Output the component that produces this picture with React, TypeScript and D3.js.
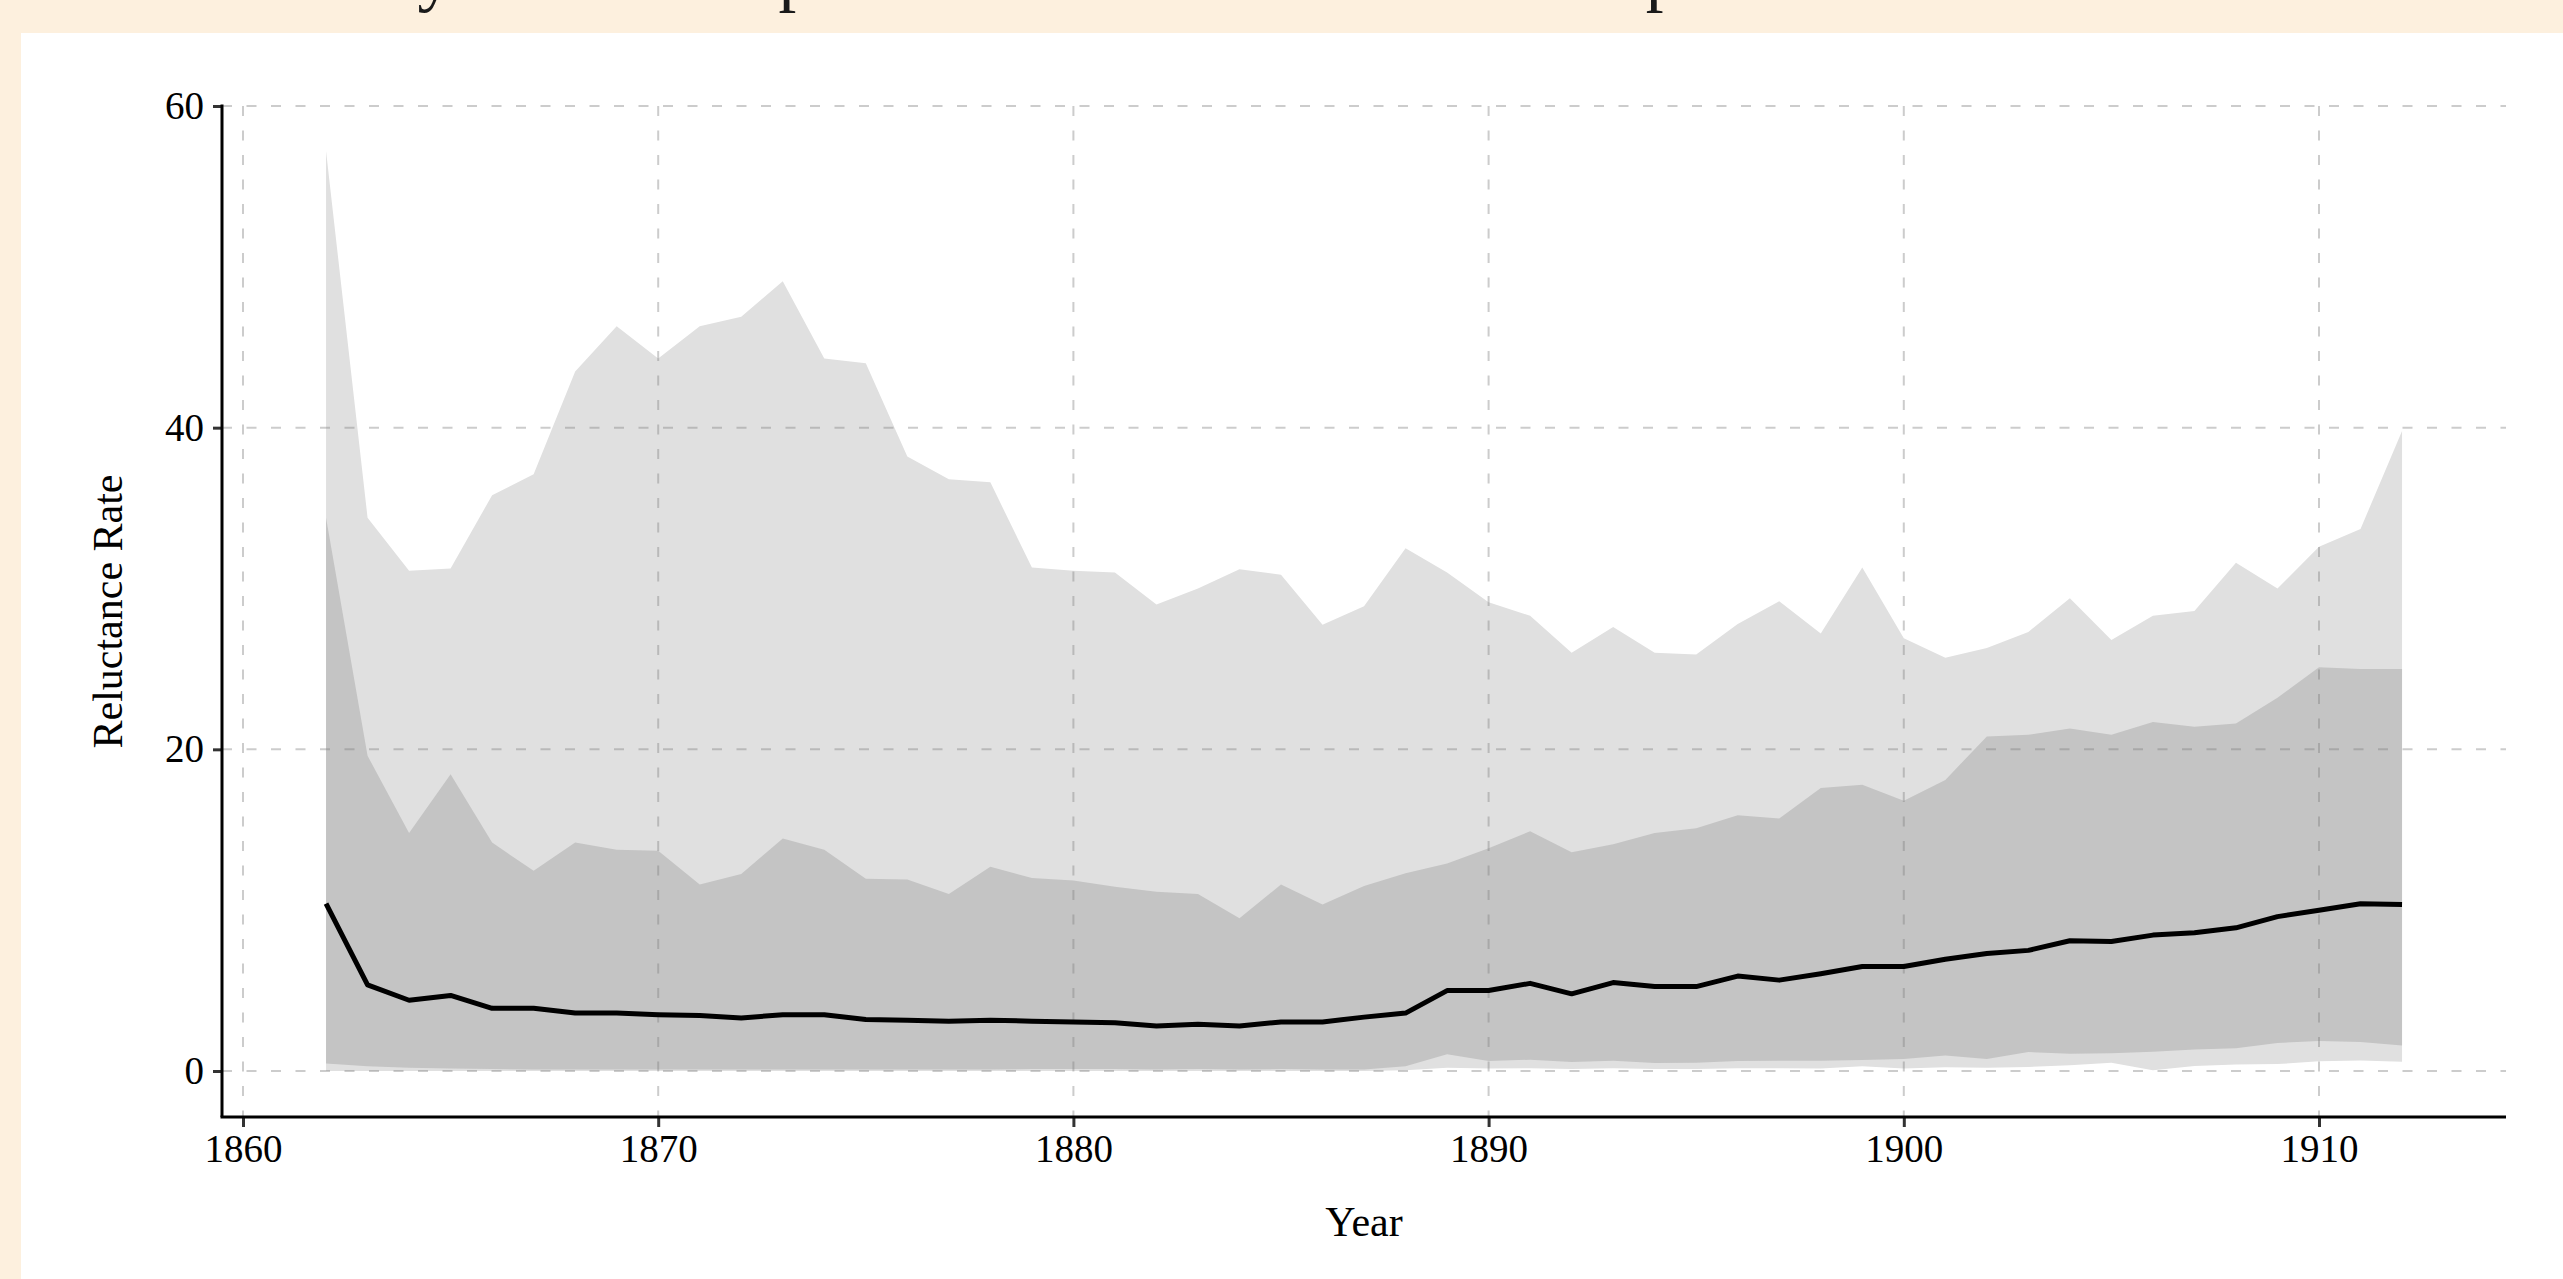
import React, { useEffect, useRef } from 'react';
import * as d3 from 'd3';

// years on the x axis
const years = [
  1862, 1863, 1864, 1865, 1866, 1867, 1868, 1869, 1870, 1871,
  1872, 1873, 1874, 1875, 1876, 1877, 1878, 1879, 1880, 1881,
  1882, 1883, 1884, 1885, 1886, 1887, 1888, 1889, 1890, 1891,
  1892, 1893, 1894, 1895, 1896, 1897, 1898, 1899, 1900, 1901,
  1902, 1903, 1904, 1905, 1906, 1907, 1908, 1909, 1910, 1911,
  1912,
];

// outer (light) band
const outerLow = [
  0, 0, 0, 0, 0, 0, 0, 0, 0, 0,
  0, 0, 0, 0, 0, 0, 0, 0, 0, 0,
  0, 0, 0, 0, 0, 0, 0.05, 0.2, 0.15, 0.17,
  0.12, 0.17, 0.12, 0.12, 0.17, 0.17, 0.15, 0.29, 0.15, 0.23,
  0.2, 0.25, 0.35, 0.52, 0.04, 0.31, 0.41, 0.43, 0.6, 0.66,
  0.58,
];
const outerHigh = [
  57.2, 34.4, 31.1, 31.25, 35.8, 37.1, 43.5, 46.3, 44.3, 46.3,
  46.9, 49.1, 44.3, 44.0, 38.2, 36.8, 36.6, 31.3, 31.1, 31.0,
  29.0, 30.0, 31.2, 30.85, 27.75, 28.9, 32.5, 31.0, 29.15, 28.3,
  26.0, 27.6, 26.0, 25.9, 27.8, 29.2, 27.2, 31.3, 26.9, 25.7,
  26.3, 27.3, 29.4, 26.8, 28.3, 28.6, 31.6, 30.0, 32.6, 33.7,
  39.8,
];

// inner (dark) band
const innerLow = [
  0.46, 0.3, 0.2, 0.15, 0.12, 0.1, 0.1, 0.1, 0.1, 0.1,
  0.1, 0.1, 0.1, 0.1, 0.1, 0.1, 0.1, 0.12, 0.12, 0.12,
  0.1, 0.12, 0.1, 0.12, 0.1, 0.1, 0.3, 1.04, 0.62, 0.7,
  0.56, 0.64, 0.5, 0.52, 0.62, 0.64, 0.64, 0.68, 0.75, 0.97,
  0.75, 1.18, 1.08, 1.1, 1.2, 1.33, 1.41, 1.74, 1.87, 1.8,
  1.58,
];
const innerHigh = [
  34.4, 19.6, 14.8, 18.45, 14.2, 12.45, 14.2, 13.75, 13.7, 11.6,
  12.25, 14.45, 13.75, 11.95, 11.9, 11.0, 12.7, 12.0, 11.85, 11.45,
  11.15, 11.0, 9.5, 11.6, 10.35, 11.5, 12.3, 12.9, 13.85, 14.9,
  13.6, 14.1, 14.8, 15.1, 15.9, 15.7, 17.6, 17.8, 16.8, 18.1,
  20.8, 20.9, 21.3, 20.9, 21.7, 21.4, 21.6, 23.2, 25.1, 25.0,
  25.0,
];

const median = [
  10.4, 5.35, 4.4, 4.7, 3.9, 3.9, 3.6, 3.6, 3.5, 3.45,
  3.3, 3.5, 3.5, 3.2, 3.15, 3.1, 3.15, 3.1, 3.05, 3.0,
  2.8, 2.9, 2.8, 3.05, 3.05, 3.35, 3.6, 5.0, 5.0, 5.45,
  4.8, 5.5, 5.25, 5.25, 5.9, 5.65, 6.05, 6.5, 6.5, 6.95,
  7.3, 7.5, 8.1, 8.05, 8.45, 8.6, 8.9, 9.6, 10.0, 10.4,
  10.35,
];

const xTicks = [1860, 1870, 1880, 1890, 1900, 1910];
const yTicks = [0, 20, 40, 60];

const W = 2563;
const H = 1279;
const serif = 'Liberation Serif, Times New Roman, serif';

const App = () => {
  const ref = useRef<SVGSVGElement>(null);

  useEffect(() => {
    const svg = d3.select(ref.current);
    svg.selectAll('*').remove();

    const x = d3.scaleLinear().domain([1860, 1910]).range([243, 2319]);
    const y = d3.scaleLinear().domain([0, 60]).range([1071, 106]);
    const left = 222,
      right = 2506,
      axisY = 1117;

    // page + panel
    svg.append('rect').attr('width', W).attr('height', H).attr('fill', '#fdf0de');
    svg
      .append('rect')
      .attr('x', 21)
      .attr('y', 33)
      .attr('width', W - 21)
      .attr('height', H - 33)
      .attr('fill', '#ffffff');

    // title sits above the top edge, only its descenders show
    svg
      .append('text')
      .attr('x', 267)
      .attr('y', -1.6)
      .style('font-family', serif)
      .style('font-size', '71px')
      .attr('fill', '#1a1a1a')
      .text('Yearly Rate and Spread of Reluctance over Companies');

    const rows = years.map((yr, i) => ({
      yr,
      ol: outerLow[i],
      oh: outerHigh[i],
      il: innerLow[i],
      ih: innerHigh[i],
      md: median[i],
    }));

    const outerArea = d3
      .area<any>()
      .x((d) => x(d.yr))
      .y0((d) => y(d.ol))
      .y1((d) => y(d.oh));
    const innerArea = d3
      .area<any>()
      .x((d) => x(d.yr))
      .y0((d) => y(d.il))
      .y1((d) => y(d.ih));

    svg.append('path').datum(rows).attr('fill', '#e0e0e0').attr('d', outerArea);
    svg.append('path').datum(rows).attr('fill', '#c4c4c4').attr('d', innerArea);

    // grid
    const grid = svg
      .append('g')
      .attr('stroke', '#808080')
      .attr('stroke-opacity', 0.4)
      .attr('stroke-width', 2)
      .attr('stroke-dasharray', '10,14.5');
    grid
      .selectAll('line.h')
      .data(yTicks)
      .enter()
      .append('line')
      .attr('class', 'h')
      .attr('x1', left)
      .attr('x2', right)
      .attr('y1', (d) => y(d))
      .attr('y2', (d) => y(d));
    grid
      .selectAll('line.v')
      .data(xTicks)
      .enter()
      .append('line')
      .attr('class', 'v')
      .attr('x1', (d) => x(d))
      .attr('x2', (d) => x(d))
      .attr('y1', y(60))
      .attr('y2', axisY);

    // median line
    svg
      .append('path')
      .datum(rows)
      .attr('fill', 'none')
      .attr('stroke', '#000')
      .attr('stroke-width', 5)
      .attr('stroke-linejoin', 'round')
      .attr(
        'd',
        d3
          .line<any>()
          .x((d) => x(d.yr))
          .y((d) => y(d.md))
      );

    // axes
    const xAxis = svg
      .append('g')
      .attr('transform', `translate(0,${axisY})`)
      .call(
        d3
          .axisBottom(x)
          .tickValues(xTicks)
          .tickSize(10)
          .tickPadding(7)
          .tickFormat(d3.format('d'))
      );
    const yAxis = svg
      .append('g')
      .attr('transform', `translate(${left},0)`)
      .call(d3.axisLeft(y).tickValues(yTicks).tickSize(9).tickPadding(9));

    [xAxis, yAxis].forEach((g) => {
      g.select('.domain').remove();
      g.selectAll('.tick line').attr('stroke', '#333').attr('stroke-width', 3);
      g.selectAll('.tick text')
        .attr('font-family', serif)
        .attr('font-size', 39)
        .attr('fill', '#000');
    });

    svg
      .append('line')
      .attr('x1', left - 1.5)
      .attr('x2', right)
      .attr('y1', axisY)
      .attr('y2', axisY)
      .attr('stroke', '#000')
      .attr('stroke-width', 3);
    svg
      .append('line')
      .attr('x1', left)
      .attr('x2', left)
      .attr('y1', y(60) - 1.5)
      .attr('y2', axisY)
      .attr('stroke', '#000')
      .attr('stroke-width', 3);

    // axis titles
    svg
      .append('text')
      .attr('transform', `translate(122,${(y(60) + axisY) / 2}) rotate(-90)`)
      .attr('text-anchor', 'middle')
      .attr('font-family', serif)
      .attr('font-size', 42)
      .attr('fill', '#000')
      .text('Reluctance Rate');
    svg
      .append('text')
      .attr('x', (left + right) / 2)
      .attr('y', 1236)
      .attr('text-anchor', 'middle')
      .attr('font-family', serif)
      .attr('font-size', 42)
      .attr('fill', '#000')
      .text('Year');
  }, []);

  return (
    <svg
      ref={ref}
      width={W}
      height={H}
      style={{ position: 'absolute', left: 0, top: 0, display: 'block' }}></svg>
  );
};

export default App;
